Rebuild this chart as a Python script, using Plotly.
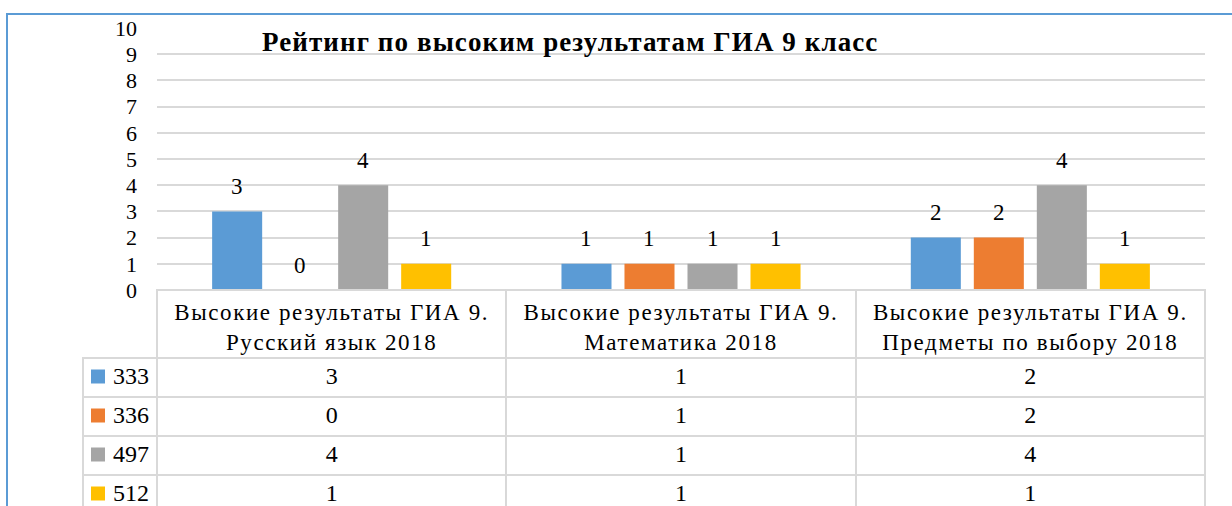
import plotly.graph_objects as go

categories = [
    ["Высокие результаты ГИА 9.", "Русский язык 2018"],
    ["Высокие результаты ГИА 9.", "Математика 2018"],
    ["Высокие результаты ГИА 9.", "Предметы по выбору 2018"],
]
cat_keys = ["Русский язык", "Математика", "Предметы по выбору"]
series_names = ["333", "336", "497", "512"]
values_333 = [3, 1, 2]
values_336 = [0, 1, 2]
values_497 = [4, 1, 4]
values_512 = [1, 1, 1]
series_values = [values_333, values_336, values_497, values_512]
colors = ["#5B9BD5", "#ED7D31", "#A5A5A5", "#FFC000"]
y_ticks = list(range(0, 11))
title_text = "Рейтинг по высоким результатам ГИА 9 класс"

W, H = 1232, 506
FONT = "Liberation Serif, Times New Roman, serif"
GRID = "#D9D9D9"

# pixel layout (page pixels from top-left)
plot_left, plot_right = 157, 1205
plot_top, plot_bottom = 28, 290
table_left = 83
header_h = 68
row_h = 39

BARGAP = 0.2785
n_series = len(series_names)
slot = (1 - BARGAP) / n_series


def px_x(p):
    return p / W


def px_y(p):
    return 1 - p / H


def spaced(s, ls):
    return f"<span style='letter-spacing:{ls}px'>{s}</span>"


fig = go.Figure()
for name, vals, col in zip(series_names, series_values, colors):
    fig.add_trace(go.Bar(
        x=cat_keys, y=vals, name=name,
        marker=dict(color=col, line=dict(width=0)),
        showlegend=False, hoverinfo="x+y+name",
    ))

# value labels above bars
annotations = []
for j, vals in enumerate(series_values):
    for i, v in enumerate(vals):
        annotations.append(dict(
            x=i + (j - (n_series - 1) / 2) * slot, y=v, xref="x", yref="y",
            text=str(v), showarrow=False, yanchor="middle", yshift=25,
            font=dict(family=FONT, size=23, color="#000000"),
        ))

# data table (header row frame only; header text comes from the category axis)
col_values = [series_names] + [[str(sv[i]) for sv in series_values] for i in range(len(cat_keys))]
fig.add_trace(go.Table(
    domain=dict(x=[px_x(table_left), px_x(plot_right)], y=[0, px_y(plot_bottom)]),
    columnwidth=[plot_left - table_left] + [(plot_right - plot_left) / 3] * 3,
    header=dict(
        values=[""] * 4,
        height=header_h,
        fill=dict(color="rgba(0,0,0,0)"),
        line=dict(color=["rgba(0,0,0,0)", GRID, GRID, GRID], width=2),
        font=dict(family=FONT, size=23, color="#000000"),
    ),
    cells=dict(
        values=col_values,
        height=row_h,
        align=["right", "center", "center", "center"],
        fill=dict(color="white"),
        line=dict(color=GRID, width=2),
        font=dict(family=FONT, size=24, color="#000000"),
    ),
))

# legend keys in the table's first column
shapes = []
for k, col in enumerate(colors):
    cy = plot_bottom + header_h + row_h * k + row_h / 2 - 1
    shapes.append(dict(
        type="rect", xref="paper", yref="paper",
        x0=px_x(91), x1=px_x(105), y0=px_y(cy + 7), y1=px_y(cy - 7),
        fillcolor=col, line=dict(width=0), layer="above",
    ))
# chart-area border
shapes.append(dict(
    type="rect", xref="paper", yref="paper",
    x0=px_x(7), x1=1.05, y0=-0.1, y1=px_y(14),
    line=dict(color="#5B9BD5", width=2), fillcolor="rgba(0,0,0,0)",
    layer="above",
))

header_text = ["<br>".join(spaced(line, 1.6) for line in c) for c in categories]

fig.update_layout(
    width=W, height=H,
    margin=dict(l=0, r=0, t=0, b=0, autoexpand=False),
    paper_bgcolor="white", plot_bgcolor="white",
    barmode="group", bargap=BARGAP, bargroupgap=0.206,
    xaxis=dict(
        domain=[px_x(plot_left), px_x(plot_right)],
        tickvals=cat_keys, ticktext=header_text, ticks="",
        tickfont=dict(family=FONT, size=23, color="#000000"),
        ticklabelstandoff=6,
        showgrid=False, zeroline=False, showline=False,
        range=[-0.5, 2.5], automargin=False,
    ),
    yaxis=dict(
        domain=[px_y(plot_bottom), px_y(plot_top)],
        range=[0, 10], tickvals=y_ticks,
        showgrid=True, gridcolor=GRID, gridwidth=2,
        zeroline=False, showline=False, automargin=False,
        tickfont=dict(family=FONT, size=22, color="#000000"),
        ticklabelstandoff=19,
    ),
    title=dict(
        text="<b>" + spaced(title_text, 1.1) + "</b>",
        x=px_x(262), xanchor="left", xref="paper",
        y=px_y(42), yanchor="middle", yref="paper",
        font=dict(family=FONT, size=27, color="#000000"),
        automargin=False,
    ),
    annotations=annotations,
    shapes=shapes,
)

fig.write_html(
    "out.html",
    config={"displayModeBar": False},
    post_script="document.body.style.margin='0px';",
)
